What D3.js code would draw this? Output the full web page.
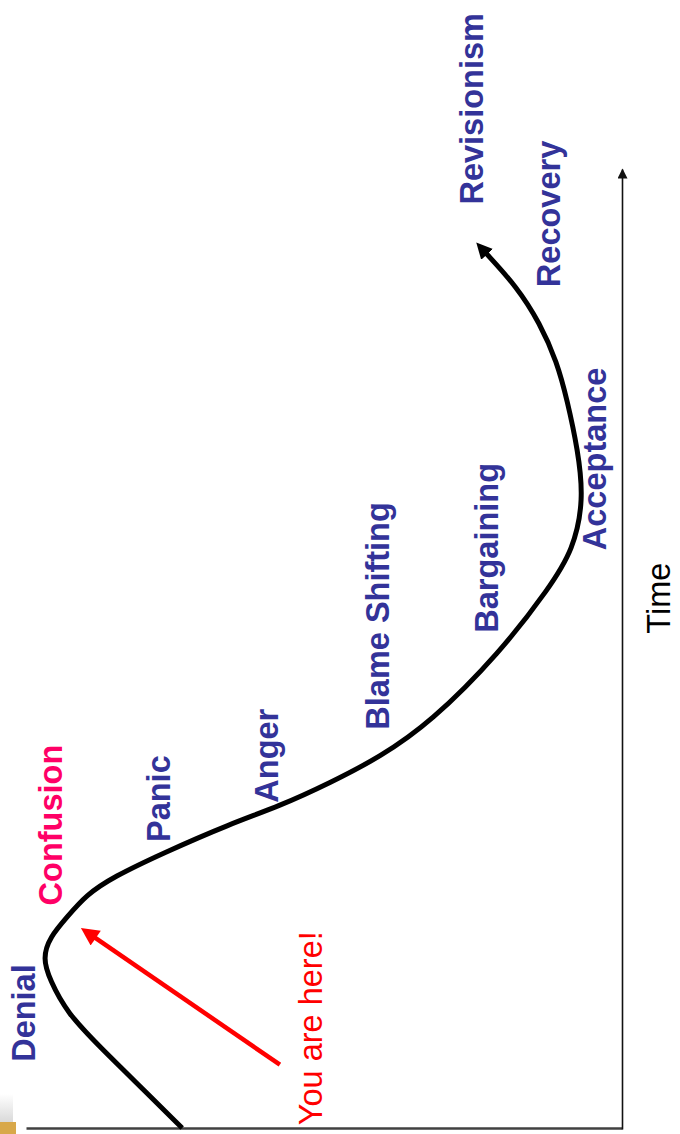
<!DOCTYPE html>
<html><head><meta charset="utf-8">
<script src="https://cdn.jsdelivr.net/npm/d3@7"></script>
<style>html,body{margin:0;padding:0;background:#fff;} svg{display:block;}</style>
</head><body>
<script>
// Emotional change curve: time (0-100) vs emotional level (0-100)
const curveTime  = [0.21, 3.85, 8.65, 12.19, 15.63, 17.92, 20.10, 22.19, 24.48, 26.35, 28.85, 31.88, 33.75, 36.15, 38.85, 42.40, 49.69, 56.56, 60.42, 65.63, 70.83, 76.04, 80.0, 84.06, 87.81, 91.46];
const curveLevel = [73.8, 79.7, 87.6, 93.1, 96.0, 97.2, 96.0, 93.1, 89.9, 85.4, 77.0, 65.8, 57.4, 49.0, 40.6, 32.2, 20.5, 12.1, 8.2, 6.4, 7.4, 9.2, 10.9, 13.8, 17.6, 23.0];

const stageNames = ["Denial", "Confusion", "Panic", "Anger", "Blame Shifting", "Bargaining", "Acceptance", "Recovery", "Revisionism"];
const stageTime  = [7.1, 23.4, 30.0, 34.1, 41.7, 51.8, 60.4, 87.8, 96.4];
const stageLevel = [98.5, 94.0, 75.8, 57.7, 39.1, 20.8, 2.7, 10.4, 23.3];
const highlightStage = "Confusion";

const pointerText = "You are here!";
const pointerTextTime = 0.5, pointerTextLevel = 50.3;
const pointerStart = [6.8, 57.4];
const pointerEnd   = [20.2, 88.8];

const axisTitle = "Time";
const axisTitleTime = 55.4, axisTitleLevel = -8.05;

const W = 680, H = 1134;
const svg = d3.select("body").append("svg").attr("width", W).attr("height", H);

const defs = svg.append("defs");
function marker(id, color, w, h, refX) {
  defs.append("marker").attr("id", id)
    .attr("viewBox", "0 0 10 10").attr("refX", refX).attr("refY", 5)
    .attr("markerWidth", w).attr("markerHeight", h)
    .attr("markerUnits", "userSpaceOnUse").attr("orient", "auto")
    .append("path").attr("d", "M0,0L10,5L0,10z").attr("fill", color);
}
marker("axArrow", "#111", 11, 10, 9);
marker("curveArrow", "#000", 16, 16, 2);
marker("redArrow", "#ff0000", 20, 18, 2);

// decorative corner remnant
const grad = defs.append("linearGradient").attr("id", "cornerGrad").attr("x1", 0).attr("y1", 0).attr("x2", 0).attr("y2", 1);
grad.append("stop").attr("offset", "0%").attr("stop-color", "#ffffff");
grad.append("stop").attr("offset", "100%").attr("stop-color", "#d8d8d8");
svg.append("rect").attr("x", 0).attr("y", 1094).attr("width", 13).attr("height", 29).attr("fill", "url(#cornerGrad)");
svg.append("rect").attr("x", 0).attr("y", 1122).attr("width", 16).attr("height", 12).attr("fill", "#d8a84a");

// chart drawn in unrotated frame, then rotated -90°
const g = svg.append("g").attr("transform", `translate(0,${H}) rotate(-90)`);

const x = d3.scaleLinear().domain([0, 100]).range([4, 964]);
const y = d3.scaleLinear().domain([0, 100]).range([622, 26]);

// level axis (appears as bottom horizontal line)
const yAx = g.append("g").attr("transform", "translate(5,0)")
  .call(d3.axisLeft(y).tickValues([]).tickSizeOuter(0));
yAx.select(".domain").attr("stroke", "#404040").attr("stroke-width", 2.6);

// time axis (appears as right vertical arrow)
const xAx = g.append("g").attr("transform", `translate(0,${y(0)})`)
  .call(d3.axisBottom(x).tickValues([]).tickSizeOuter(0));
xAx.select(".domain").attr("stroke", "#111").attr("stroke-width", 1.6).attr("marker-end", "url(#axArrow)");

// curve
const pts = curveTime.map((t, i) => [t, curveLevel[i]]);
const line = d3.line().x(d => x(d[0])).y(d => y(d[1])).curve(d3.curveBasis);
g.append("path").datum(pts).attr("d", line)
  .attr("fill", "none").attr("stroke", "#000").attr("stroke-width", 5)
  .attr("marker-end", "url(#curveArrow)");

// stage labels
const font = "'Liberation Sans', Arial, sans-serif";
g.selectAll("text.stage").data(stageNames).join("text")
  .attr("class", "stage")
  .attr("x", (d, i) => x(stageTime[i]))
  .attr("y", (d, i) => y(stageLevel[i]))
  .attr("font-family", font).attr("font-weight", "bold").attr("font-size", "32.5px")
  .attr("fill", d => d === highlightStage ? "#ff0066" : "#333399")
  .text(d => d);

// pointer
g.append("line")
  .attr("x1", x(pointerStart[0])).attr("y1", y(pointerStart[1]))
  .attr("x2", x(pointerEnd[0])).attr("y2", y(pointerEnd[1]))
  .attr("stroke", "#ff0000").attr("stroke-width", 4.5)
  .attr("marker-end", "url(#redArrow)");
g.append("text")
  .attr("x", x(pointerTextTime)).attr("y", y(pointerTextLevel))
  .attr("font-family", font).attr("font-size", "32.5px").attr("fill", "#ff0000")
  .text(pointerText);

// axis title
g.append("text")
  .attr("x", x(axisTitleTime)).attr("y", y(axisTitleLevel))
  .attr("text-anchor", "middle")
  .attr("font-family", font).attr("font-size", "32.5px").attr("fill", "#000")
  .text(axisTitle);
</script>
</body></html>
